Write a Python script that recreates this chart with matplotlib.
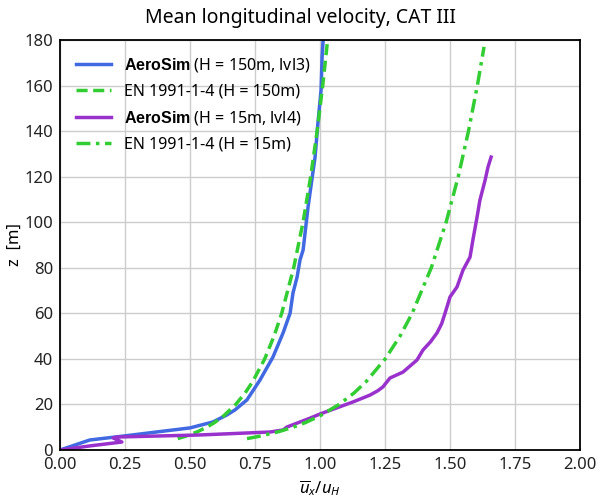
import matplotlib
matplotlib.use("Agg")
import matplotlib.pyplot as plt

plt.rcParams['font.family'] = ['Noto Sans', 'DejaVu Sans']
plt.rcParams['mathtext.fontset'] = 'custom'
plt.rcParams['mathtext.rm'] = 'Noto Sans'
plt.rcParams['mathtext.it'] = 'Noto Sans:italic'
plt.rcParams['mathtext.bf'] = 'Liberation Sans:bold'

# AeroSim H=150m, lvl3
aero150_u = [0.0, 0.115, 0.242, 0.50, 0.588, 0.642, 0.673, 0.719, 0.769, 0.819, 0.858,
             0.885, 0.896, 0.912, 0.923, 0.935, 0.954, 0.981, 0.992, 1.004, 1.008, 1.012, 1.014]
aero150_z = [0.0, 4.4, 6.1, 9.7, 12.3, 15.4, 17.6, 22.0, 30.7, 40.8, 51.4,
             60.1, 68.9, 76.0, 83.4, 87.8, 106.7, 128.6, 143.5, 158.0, 172.5, 180.0, 185.0]

# EN 1991-1-4, H=150m
en150_z = [5, 6, 8, 10, 12, 15, 20, 25, 30, 40, 50, 60, 80, 100, 120, 140, 160, 180, 185]
en150_u = [0.4527, 0.4820, 0.5283, 0.5643, 0.5936, 0.6295, 0.6758, 0.7117, 0.7410, 0.7873,
           0.8232, 0.8526, 0.8988, 0.9347, 0.9641, 0.9889, 1.0104, 1.0293, 1.0337]

# AeroSim H=15m, lvl4
aero15_u = [0.0, 0.058, 0.115, 0.238, 0.204, 0.219, 0.538, 0.808, 0.858, 0.873, 0.962, 1.0,
            1.127, 1.192, 1.222, 1.242, 1.269, 1.319, 1.373, 1.396, 1.425, 1.45, 1.468, 1.481,
            1.50, 1.527, 1.55, 1.577, 1.588, 1.604, 1.615, 1.635, 1.646, 1.658]
aero15_z = [0.0, 0.9, 1.8, 3.5, 5.3, 5.7, 6.6, 7.9, 8.8, 10.1, 14.0, 15.8,
            21.1, 24.1, 26.0, 27.7, 31.6, 34.2, 39.5, 43.9, 47.5, 51.4, 55.5, 60.1,
            67.2, 71.6, 79.0, 84.7, 92.2, 102.3, 109.7, 118.5, 124.2, 128.6]

# EN 1991-1-4, H=15m
en15_z = [5, 6, 8, 10, 12, 15, 20, 25, 30, 40, 50, 60, 80, 100, 120, 140, 160, 177]
en15_u = [0.7192, 0.7658, 0.8393, 0.8964, 0.9430, 1.0, 1.0735, 1.1306, 1.1772, 1.2507,
          1.3078, 1.3544, 1.4279, 1.4850, 1.5316, 1.5710, 1.6051, 1.6309]

labels = [r"$\bf{AeroSim}$ (H = 150m, lvl3)", "EN 1991-1-4 (H = 150m)",
          r"$\bf{AeroSim}$ (H = 15m, lvl4)", "EN 1991-1-4 (H = 15m)"]

fig = plt.figure(figsize=(6, 5), dpi=100)
ax = fig.add_axes([0.1, 0.1, 0.8667, 0.82])

blue = '#4169E1'
green = '#32CD32'
purple = '#9932CC'
lw = 2.5
ax.plot(aero150_u, aero150_z, color=blue, lw=lw, label=labels[0])
ax.plot(en150_u, en150_z, color=green, lw=lw, ls=(0, (3.2, 1.6)), label=labels[1])
ax.plot(aero15_u, aero15_z, color=purple, lw=lw, label=labels[2])
ax.plot(en15_u, en15_z, color=green, lw=lw, ls=(0, (4, 1.6, 1, 1.6)), label=labels[3])

ax.set_xlim(0, 2)
ax.set_ylim(0, 180)
ax.set_xticks([0, 0.25, 0.5, 0.75, 1.0, 1.25, 1.5, 1.75, 2.0])
ax.set_xticklabels(['0.00', '0.25', '0.50', '0.75', '1.00', '1.25', '1.50', '1.75', '2.00'])
ax.set_yticks(range(0, 181, 20))
ax.grid(True, color='#cccccc', lw=1)
ax.set_axisbelow(True)
ax.tick_params(length=0, labelsize=12, pad=5, colors='#222222')
for s in ax.spines.values():
    s.set_color('black')
    s.set_linewidth(1.3)

ax.set_xlabel(r"$\overline{u}_x/u_H$", fontsize=12, labelpad=4)
ax.set_ylabel("z  [m]", fontsize=12, labelpad=1)
fig.suptitle("Mean longitudinal velocity, CAT III", fontsize=14, y=0.985)

ax.legend(loc='upper left', frameon=False, fontsize=11.5, handlelength=2.2,
          handletextpad=0.8, labelspacing=0.6, borderaxespad=0.6,
          bbox_to_anchor=(0.0, 1.0))

fig.savefig("out.png", dpi=100)
